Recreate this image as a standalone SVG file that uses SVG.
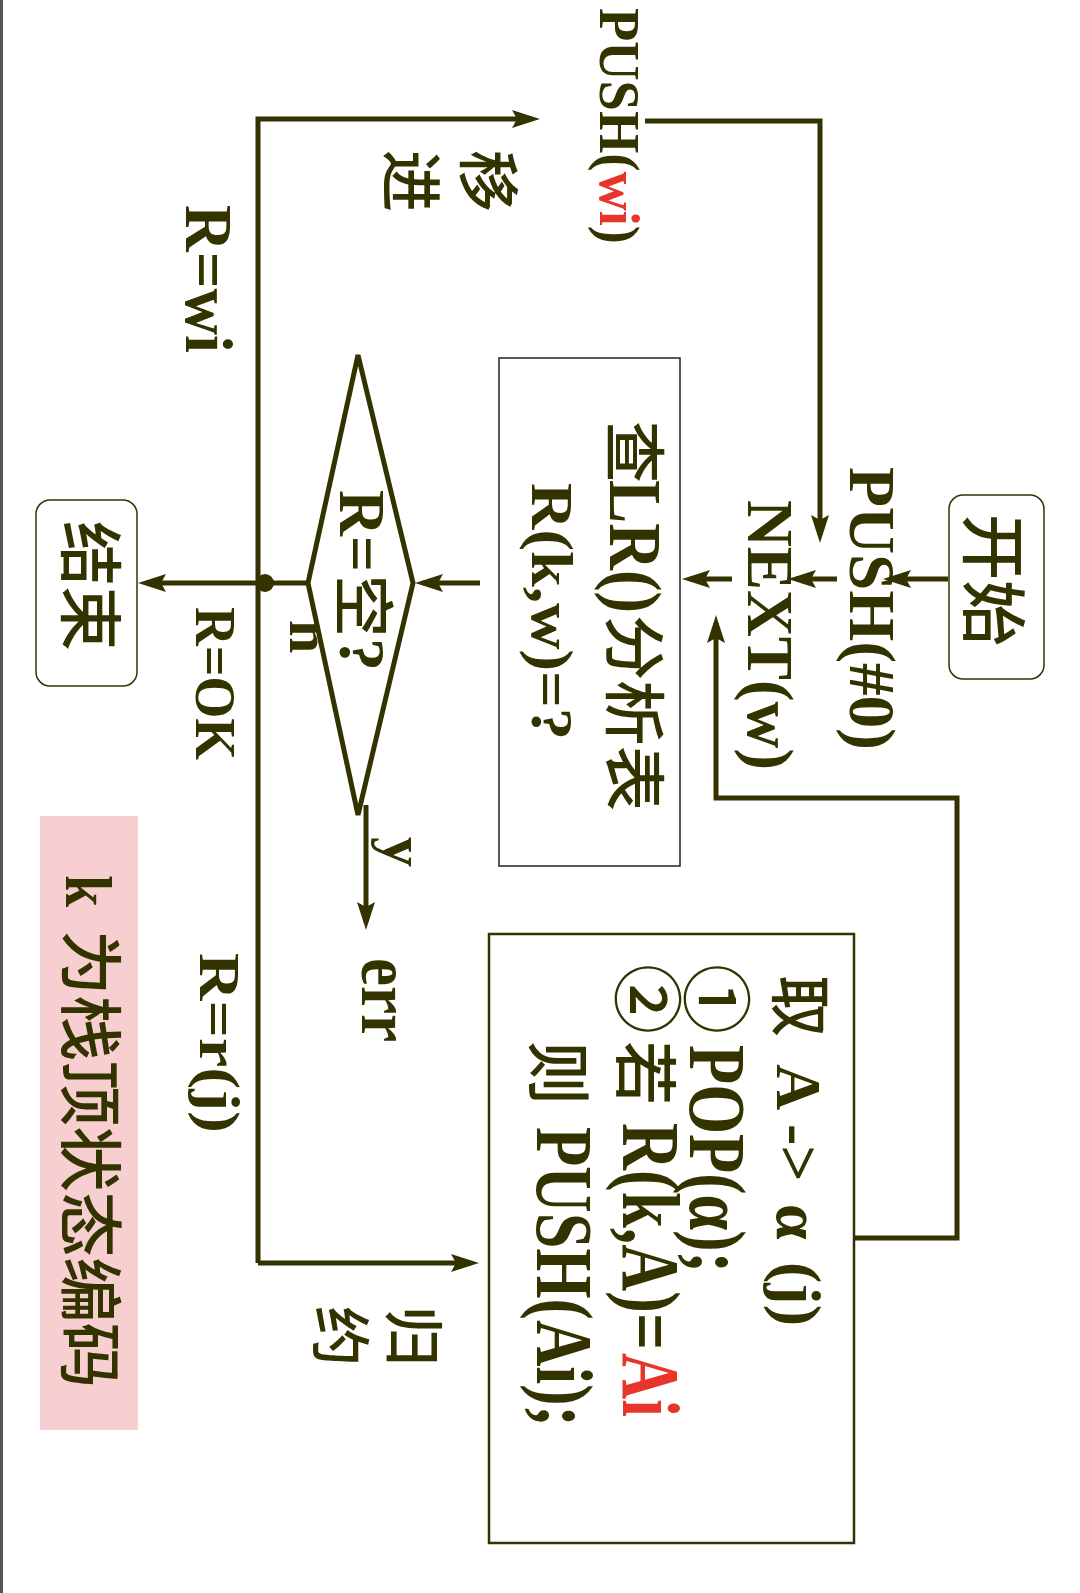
<svg xmlns="http://www.w3.org/2000/svg" width="1080" height="1593" viewBox="0 0 1080 1593">
<style>
.l{font-family:"Liberation Serif","Noto Sans CJK SC",serif;font-weight:bold;fill:#333300}
.c{font-family:"Noto Sans CJK SC",sans-serif;font-weight:500;fill:#333300}
.red{fill:#e8352c}
.cn{fill:none;stroke:#333300;stroke-width:5}
.box{fill:#ffffff;stroke:#333300}
</style>
<defs>
<marker id="ah" markerUnits="userSpaceOnUse" markerWidth="30" markerHeight="22" refX="20" refY="11" orient="auto">
<path d="M0,2 L28,11 L0,20 L5,11 z" fill="#333300"/>
</marker>
</defs>
<rect x="0" y="0" width="1080" height="1593" fill="#ffffff"/>
<rect x="0" y="0" width="3" height="1593" fill="#555555"/>

<g id="note">
<rect x="40" y="816" width="98" height="614" fill="#f7cfd0"/>
<text class="l" font-size="66" transform="translate(66,875) rotate(90)" textLength="32" lengthAdjust="spacingAndGlyphs">k</text>
<text class="c" font-size="64" transform="translate(67,930) rotate(90)" textLength="458" lengthAdjust="spacingAndGlyphs">为栈顶状态编码</text>
</g>

<g id="connectors">
<path class="cn" d="M948,579 L891,579" marker-end="url(#ah)"/>
<path class="cn" d="M837,579 L796,579" marker-end="url(#ah)"/>
<path class="cn" d="M732,579 L690,579" marker-end="url(#ah)"/>
<path class="cn" d="M480,583 L423,583" marker-end="url(#ah)"/>
<path class="cn" d="M308,583 L146,583" marker-end="url(#ah)"/>
<path class="cn" d="M258,1263 L258,119 L532,119" marker-end="url(#ah)"/>
<path class="cn" d="M258,1263 L471,1263" marker-end="url(#ah)"/>
<path class="cn" d="M645,121 L820,121 L820,535" marker-end="url(#ah)"/>
<path class="cn" d="M855,1238 L957,1238 L957,798 L716,798 L716,623" marker-end="url(#ah)"/>
<path class="cn" d="M366,805 L366,922" marker-end="url(#ah)"/>
<circle cx="265" cy="583" r="9" fill="#333300"/>
</g>

<g id="labels">
<text class="c" font-size="62" transform="translate(465,150) rotate(90)">移</text>
<text class="c" font-size="62" transform="translate(388,150) rotate(90)">进</text>
<text class="l" font-size="68" transform="translate(186,205) rotate(90)" textLength="148" lengthAdjust="spacingAndGlyphs">R=wi</text>
<text class="l" font-size="57" transform="translate(196,607) rotate(90)" textLength="153" lengthAdjust="spacingAndGlyphs">R=OK</text>
<text class="l" font-size="58" transform="translate(200,953) rotate(90)" textLength="180" lengthAdjust="spacingAndGlyphs">R=r(j)</text>
<text class="l" font-size="72" transform="translate(362,958) rotate(90)" textLength="84" lengthAdjust="spacingAndGlyphs">err</text>
<text class="l" font-size="60" transform="translate(384,837) rotate(90)">y</text>
<text class="l" font-size="60" transform="translate(290,620) rotate(90)">n</text>
<text class="c" font-size="60" transform="translate(391,1306) rotate(90)">归</text>
<text class="c" font-size="60" transform="translate(318,1306) rotate(90)">约</text>
</g>

<g id="push-wi">
<text class="l" font-size="58" transform="translate(600,8) rotate(90)" textLength="236" lengthAdjust="spacingAndGlyphs">PUSH(<tspan class="red">wi</tspan>)</text>
</g>

<g id="start">
<rect class="box" x="949" y="495" width="95" height="184" rx="14" stroke-width="1.5"/>
<text class="c" font-size="66" transform="translate(969,514) rotate(90)" textLength="132" lengthAdjust="spacingAndGlyphs">开始</text>
</g>

<g id="push0">
<text class="l" font-size="66" transform="translate(850,467) rotate(90)" textLength="283" lengthAdjust="spacingAndGlyphs">PUSH(#0)</text>
</g>

<g id="next">
<text class="l" font-size="65" transform="translate(748,500) rotate(90)" textLength="270" lengthAdjust="spacingAndGlyphs">NEXT(w)</text>
</g>

<g id="lookup">
<rect x="499" y="358" width="181" height="508" fill="#ffffff" stroke="#222222" stroke-width="1.5"/>
<text class="c" font-size="62" transform="translate(611,421) rotate(90)">查</text>
<text class="l" font-size="74" transform="translate(610,480) rotate(90)" textLength="133" lengthAdjust="spacingAndGlyphs">LR()</text>
<text class="c" font-size="62" transform="translate(611,615) rotate(90)" textLength="196" lengthAdjust="spacingAndGlyphs">分析表</text>
<text class="l" font-size="60" transform="translate(532,483) rotate(90)" textLength="257" lengthAdjust="spacingAndGlyphs">R(k,w)=?</text>
</g>

<g id="decision">
<polygon points="358,355 413,583 358,815 308,583" fill="#ffffff" stroke="#333300" stroke-width="5" stroke-linejoin="miter"/>
<text class="l" font-size="65" transform="translate(340,490) rotate(90)" textLength="82" lengthAdjust="spacingAndGlyphs">R=</text>
<text class="c" font-size="62" transform="translate(340,575) rotate(90)">空</text>
<text class="l" font-size="66" transform="translate(340,638) rotate(90)">?</text>
</g>

<g id="end">
<rect class="box" x="36" y="500" width="101" height="186" rx="14" stroke-width="1.5"/>
<text class="c" font-size="64" transform="translate(67,521) rotate(90)" textLength="130" lengthAdjust="spacingAndGlyphs">结束</text>
</g>

<g id="reduce">
<rect x="489" y="934" width="365" height="609" fill="#ffffff" stroke="#333300" stroke-width="2.5"/>
<text class="l" font-size="64" transform="translate(777,0) rotate(90)"><tspan class="c" font-size="62" x="975">取</tspan><tspan x="1064">A</tspan><tspan x="1124">-&gt;</tspan><tspan x="1204">α</tspan><tspan x="1262">(j)</tspan></text>
<text class="c" font-size="70" transform="translate(690,964) rotate(90)">①</text>
<text class="l" font-size="80" transform="translate(690,1045) rotate(90)" textLength="228" lengthAdjust="spacingAndGlyphs">POP(α);</text>
<text class="c" font-size="70" transform="translate(621,964) rotate(90)">②</text>
<text class="c" font-size="64" transform="translate(622,1041) rotate(90)">若</text>
<text class="l" font-size="82" transform="translate(623,1123) rotate(90)" textLength="227" lengthAdjust="spacingAndGlyphs">R(k,A)=</text>
<text class="l red" font-size="82" transform="translate(623,1353) rotate(90)" textLength="64" lengthAdjust="spacingAndGlyphs">Ai</text>
<text class="c" font-size="64" transform="translate(535,1041) rotate(90)">则</text>
<text class="l" font-size="80" transform="translate(537,1127) rotate(90)" textLength="300" lengthAdjust="spacingAndGlyphs">PUSH(Ai);</text>
</g>
</svg>
